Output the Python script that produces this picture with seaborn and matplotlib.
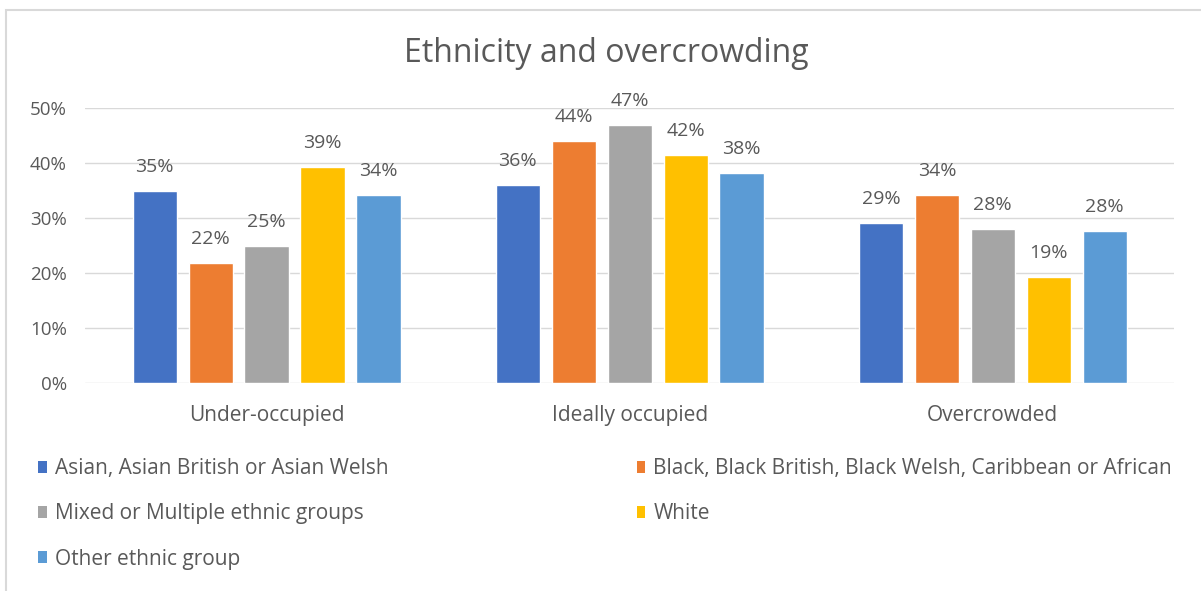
import numpy as np
import pandas as pd
import seaborn as sns
import matplotlib.pyplot as plt
from matplotlib.patches import Patch, Rectangle

# values
categories = ["Under-occupied", "Ideally occupied", "Overcrowded"]
groups = [
    "Asian, Asian British or Asian Welsh",
    "Black, Black British, Black Welsh, Caribbean or African",
    "Mixed or Multiple ethnic groups",
    "White",
    "Other ethnic group",
]
asian = [0.349, 0.360, 0.291]
black = [0.218, 0.440, 0.342]
mixed = [0.249, 0.469, 0.280]
white = [0.393, 0.415, 0.193]
other = [0.342, 0.382, 0.276]
colors = ["#4472C4", "#ED7D31", "#A5A5A5", "#FFC000", "#5B9BD5"]

df = pd.DataFrame({
    "category": categories * len(groups),
    "group": np.repeat(groups, len(categories)),
    "value": asian + black + mixed + white + other,
})

sns.set_style("white")
plt.rcParams["font.family"] = ["Open Sans", "DejaVu Sans"]
text_col = "#595959"

fig = plt.figure(figsize=(12.01, 5.91), dpi=100)
ax = fig.add_axes([0.0708, 0.352, 0.907, 0.465])

sns.barplot(data=df, x="category", y="value", hue="group", order=categories,
            hue_order=groups, palette=colors, width=0.77, gap=0.21,
            legend=False, ax=ax, saturation=1)

for cont in ax.containers:
    ax.bar_label(cont, labels=[f"{v:.0%}" for v in cont.datavalues],
                 padding=11, fontsize=14, color=text_col)

ax.set_ylim(0, 0.5)
ax.set_xlim(-0.5, 2.5)
ax.set_yticks(np.arange(0, 0.51, 0.1))
ax.set_yticklabels([f"{int(t * 100)}%" for t in np.arange(0, 0.51, 0.1)])
ax.yaxis.grid(True, color="#D9D9D9", linewidth=1)
ax.set_axisbelow(True)
for s in ax.spines.values():
    s.set_visible(False)
ax.tick_params(axis="y", length=0, pad=13, labelsize=13.5, labelcolor=text_col)
ax.tick_params(axis="x", length=0, pad=16, labelsize=15, labelcolor=text_col)
ax.set_xlabel("")
ax.set_ylabel("")

fig.text(0.505, 0.91, "Ethnicity and overcrowding", ha="center", va="center",
         fontsize=23, color=text_col)

handles = [Patch(facecolor=c, edgecolor="none") for c in colors]
leg_kw = dict(frameon=False, handlelength=0.4, handleheight=0.5, handletextpad=0.4,
              labelspacing=1.17, fontsize=15, labelcolor=text_col, loc="upper left",
              borderpad=0, borderaxespad=0)
fig.legend([handles[0], handles[2], handles[4]], [groups[0], groups[2], groups[4]],
           bbox_to_anchor=(0.032, 0.225), **leg_kw)
fig.legend([handles[1], handles[3]], [groups[1], groups[3]],
           bbox_to_anchor=(0.53, 0.225), **leg_kw)

# thin chart frame
fig.patches.append(Rectangle((0.005, -0.01), 1.1, 0.993, transform=fig.transFigure,
                             fill=False, edgecolor="#D9D9D9", linewidth=1.5))

fig.savefig("out.png", dpi=100)
